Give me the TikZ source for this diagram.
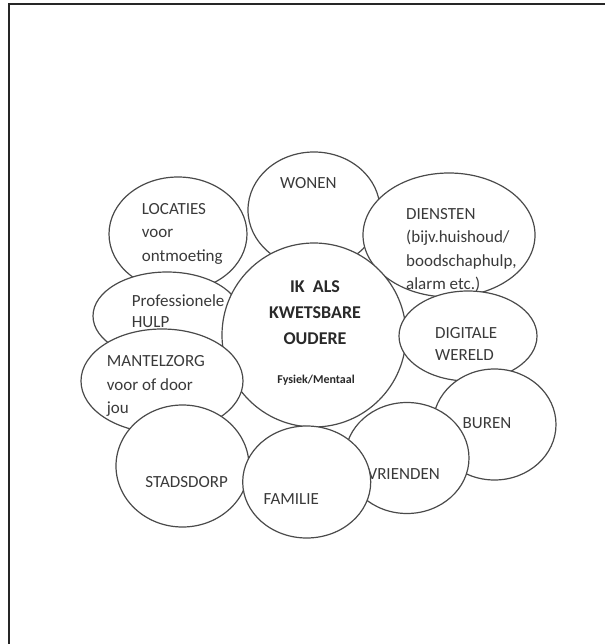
\documentclass[tikz,border=0pt]{standalone}
\usepackage{fontspec}
\setmainfont{Carlito}
\usetikzlibrary{shapes.geometric}
\definecolor{linegray}{HTML}{4A4A4A}
\definecolor{txtgray}{HTML}{3A3A3A}
\tikzset{
bubble/.style={ellipse, draw=linegray, fill=white, line width=1.2pt, inner sep=0pt},
lbl/.style={align=left, inner sep=0pt, text=txtgray, font=\fontsize{17}{23.5}\selectfont},
ctr/.style={align=center, inner sep=0pt, text=txtgray!70!black, font=\bfseries\fontsize{18}{26}\selectfont}
}

\begin{document}
\begin{tikzpicture}[x=1pt,y=-1pt]
\useasboundingbox (0,0) rectangle (604,644);
\draw [line width=2pt, black!85] (9,646) -- (9,4) -- (606,4);

\node [bubble, minimum width=138pt, minimum height=114pt] (LOC) at (178,234) {};
\node [lbl, anchor=west] (LOCt) at (141.7,233.5) {LOCATIES\\voor\\ontmoeting};

\node [bubble, minimum width=132pt, minimum height=116pt] (WON) at (314,210) {};
\node [lbl, anchor=west] (WONt) at (280,183) {WONEN};

\node [bubble, minimum width=172pt, minimum height=124pt] (DIE) at (449,235) {};
\node [lbl, anchor=west] (DIEt) at (406,250) {DIENSTEN\\(bijv.huishoud/\\boodschaphulp,\\alarm etc.)};

\node [bubble, minimum width=148pt, minimum height=88pt] (PRO) at (167,316) {};
\node [lbl, anchor=west, font=\fontsize{17}{21}\selectfont] (PROt) at (131.7,311) {Professionele\\HULP};

\node [bubble, circle, minimum size=184pt] (IK) at (314,335) {};
\node [ctr] (IKt) at (315,313) {IK\ \ ALS\\KWETSBARE\\OUDERE};
\node [ctr, font=\bfseries\fontsize{12}{14}\selectfont] (FYS) at (316,380.7) {Fysiek/Mentaal};

\node [bubble, minimum width=162pt, minimum height=104pt] (MAN) at (162,381) {};
\node [lbl, anchor=west] (MANt) at (106.7,386) {MANTELZORG\\voor of door\\jou};

\node [bubble, minimum width=133pt, minimum height=122pt] (STA) at (182.5,466) {};
\node [lbl] (STAt) at (186.7,482.5) {STADSDORP};

\node [bubble, minimum width=138pt, minimum height=90pt] (DIG) at (468,336) {};
\node [lbl, anchor=west, font=\fontsize{17}{22}\selectfont] (DIGt) at (435,344) {DIGITALE\\WERELD};

\node [bubble, minimum width=123pt, minimum height=111pt] (BUR) at (494.5,424.5) {};
\node [lbl] (BURt) at (487,423) {BUREN};

\node [bubble, minimum width=124pt, minimum height=111pt] (VRI) at (407,458) {};
\node [lbl] (VRIt) at (403.7,474) {VRIENDEN};

\node [bubble, minimum width=128pt, minimum height=112pt] (FAM) at (306.7,482) {};
\node [lbl] (FAMt) at (291.3,499) {FAMILIE};
\end{tikzpicture}
\end{document}
